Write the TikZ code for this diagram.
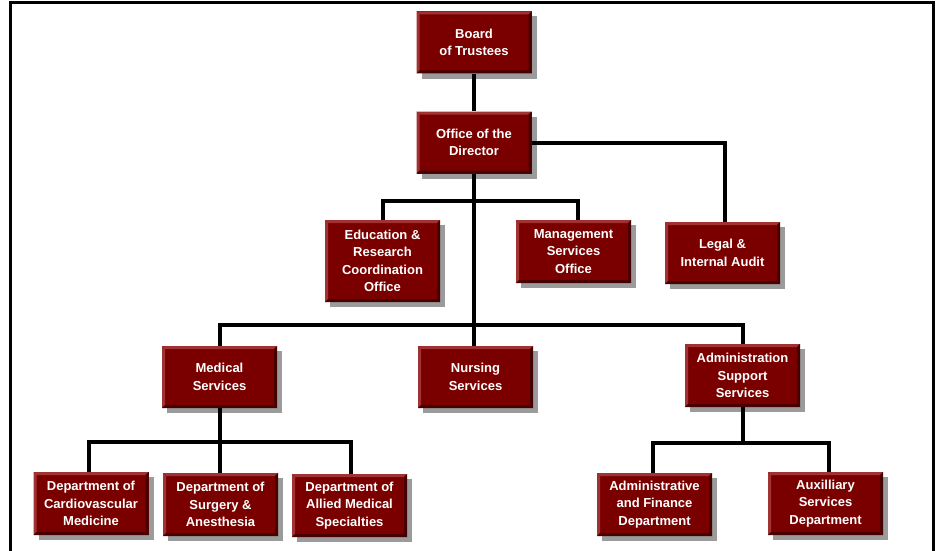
\documentclass[tikz,border=0pt]{standalone}
\usepackage{fontspec}
\setmainfont{Liberation Sans}
\usetikzlibrary{shadows}
\definecolor{dred}{RGB}{122,0,0}
\definecolor{blight}{RGB}{160,50,50}
\definecolor{bdark}{RGB}{70,0,0}
\tikzset{
  org/.style={minimum width=115pt, minimum height=62pt, fill=dred, text=white,
    font=\bfseries\fontsize{13}{17.5}\selectfont, align=center, inner sep=1pt,
    drop shadow={shadow xshift=5pt, shadow yshift=-5pt, fill=black!65, opacity=0.6},
    path picture={
      \fill[blight] (path picture bounding box.north west) -- (path picture bounding box.north east)
        -- ([xshift=-3pt,yshift=-3pt]path picture bounding box.north east)
        -- ([xshift=3pt,yshift=-3pt]path picture bounding box.north west) -- cycle;
      \fill[blight] (path picture bounding box.north west) -- (path picture bounding box.south west)
        -- ([xshift=3pt,yshift=3pt]path picture bounding box.south west)
        -- ([xshift=3pt,yshift=-3pt]path picture bounding box.north west) -- cycle;
      \fill[bdark] (path picture bounding box.south west) -- (path picture bounding box.south east)
        -- ([xshift=-3pt,yshift=3pt]path picture bounding box.south east)
        -- ([xshift=3pt,yshift=3pt]path picture bounding box.south west) -- cycle;
      \fill[bdark] (path picture bounding box.north east) -- (path picture bounding box.south east)
        -- ([xshift=-3pt,yshift=3pt]path picture bounding box.south east)
        -- ([xshift=-3pt,yshift=-3pt]path picture bounding box.north east) -- cycle;
    }},
  conn/.style={line width=4pt, black}
}
\begin{document}
\begin{tikzpicture}[x=1pt,y=1pt]
\useasboundingbox (0,0) rectangle (942,-551);
\fill[white] (0,0) rectangle (942,-551);
% frame
\draw[line width=3pt] (10.5,-551) -- (10.5,-2.5) -- (933.5,-2.5) -- (933.5,-551);

% nodes
\node[org] (board) at (474,-42.5) {Board\\of Trustees};
\node[org] (dir) at (474,-142.5) {Office of the\\Director};
\node[org, minimum height=82pt] (edu) at (382.5,-261) {Education \&\\Research\\Coordination\\Office};
\node[org, minimum height=63pt] (mgmt) at (573.5,-251.5) {Management\\Services\\Office};
\node[org] (legal) at (722.5,-253) {Legal \&\\Internal Audit};
\node[org] (med) at (219.5,-377) {Medical\\Services};
\node[org] (nurs) at (475.5,-377) {Nursing\\Services};
\node[org, minimum height=63pt] (adm) at (742.5,-375.5) {Administration\\Support\\Services};
\node[org, minimum height=63pt] (card) at (91,-503.5) {Department of\\Cardiovascular\\Medicine};
\node[org, minimum height=63pt] (surg) at (220.5,-504.5) {Department of\\Surgery \&\\Anesthesia};
\node[org, minimum height=63pt] (allied) at (349.5,-505.5) {Department of\\Allied Medical\\Specialties};
\node[org, minimum height=63pt] (af) at (654.5,-504.5) {Administrative\\and Finance\\Department};
\node[org, minimum height=63pt] (aux) at (825.5,-503.5) {Auxilliary\\Services\\Department};

% junctions
\coordinate (b1) at (474,-201);
\coordinate (b2) at (474,-325);
\coordinate (b3) at (219.5,-442);
\coordinate (b4) at (742.5,-443);

% connectors
\draw[conn] (board.south) -- (dir.north);
\draw[conn] (dir.east) -| ([xshift=2pt]legal.north);
\draw[conn] (dir.south) -- (b2);
\draw[conn] (edu.north) |- (b1) -| ([xshift=4pt]mgmt.north);
\draw[conn] (med.north) |- (b2) -| (adm.north);
\draw[conn] (b2) -- (b2 |- nurs.north);
\draw[conn] ([xshift=-2pt]card.north) |- (b3) -| ([xshift=1.5pt]allied.north);
\draw[conn] (med.south) -- (b3 |- surg.north);
\draw[conn] ([xshift=-1.5pt]af.north) |- (b4) -| ([xshift=3.5pt]aux.north);
\draw[conn] (adm.south) -- (b4);
\end{tikzpicture}
\end{document}
